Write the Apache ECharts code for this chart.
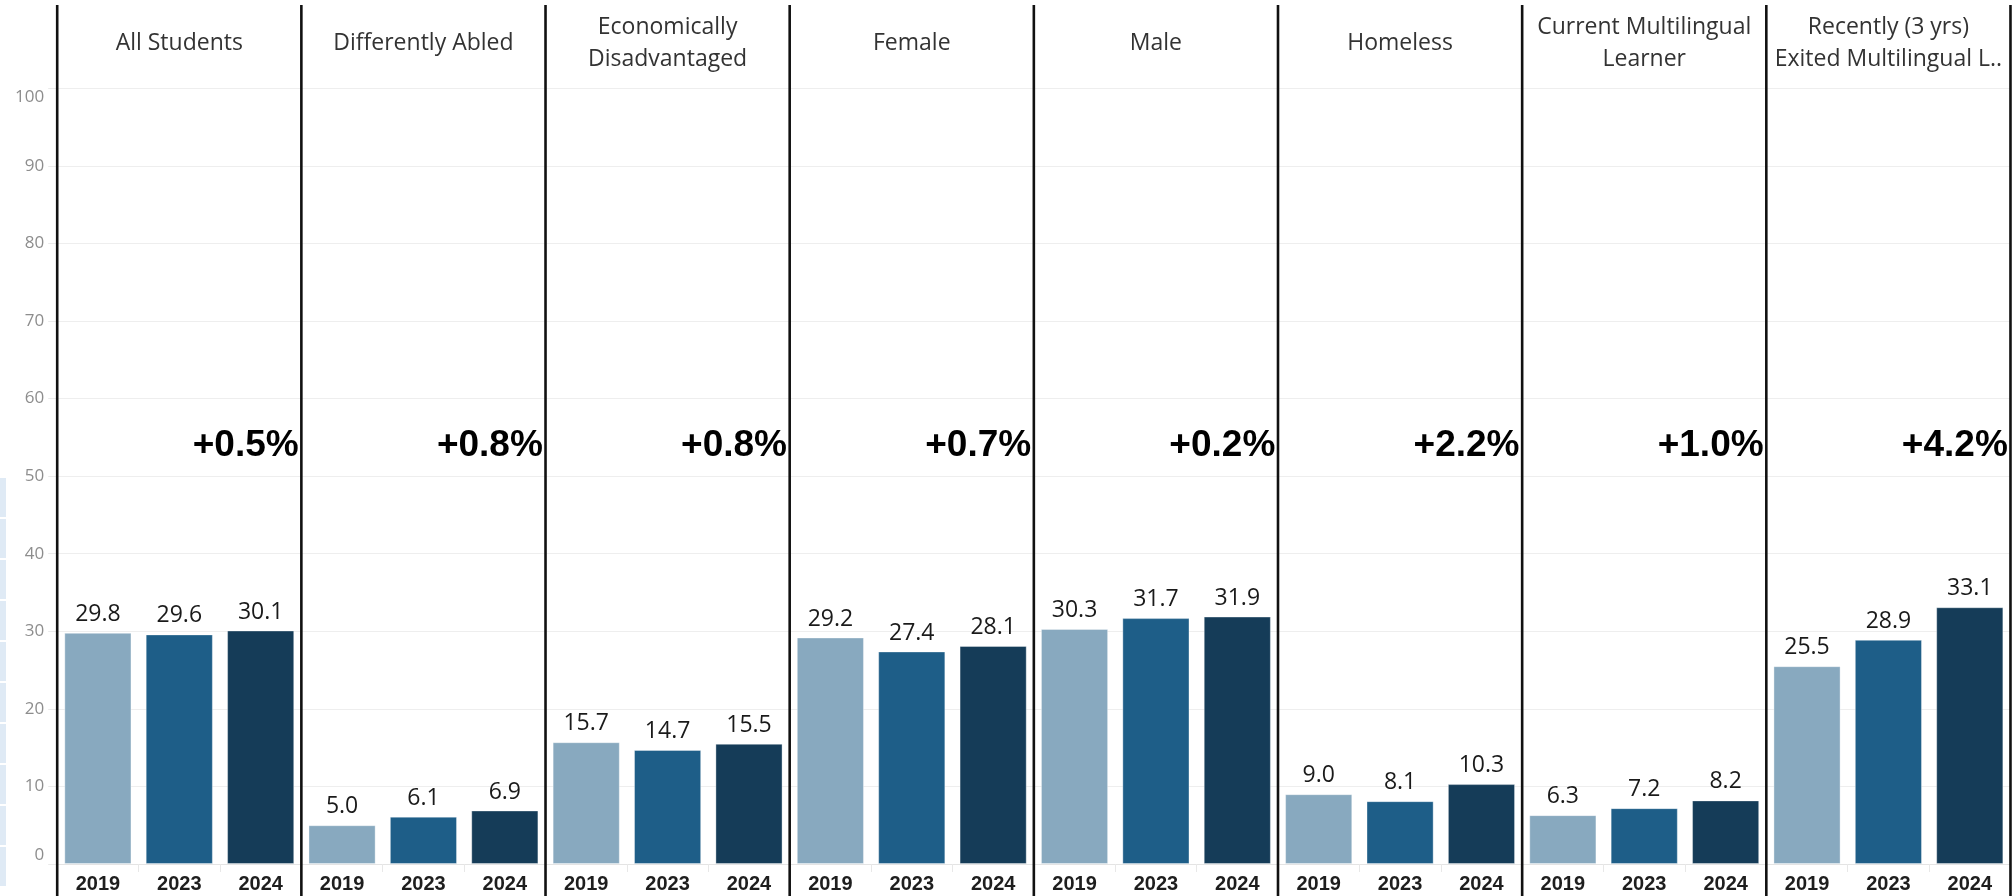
<!DOCTYPE html>
<html>
<head>
<meta charset="utf-8">
<script src="https://cdn.jsdelivr.net/npm/echarts@6/dist/echarts.min.js"></script>
<style>
html,body{margin:0;padding:0;background:#fff;}
#chart{width:2013px;height:896px;}
</style>
</head>
<body>
<div id="chart"></div>
<script>
// ---- data ----
var groups = ['All Students', 'Differently Abled', 'Economically\nDisadvantaged', 'Female', 'Male', 'Homeless', 'Current Multilingual\nLearner', 'Recently (3 yrs)\nExited Multilingual L..'];
var years = ['2019', '2023', '2024'];
var v2019 = [29.8, 5.0, 15.7, 29.2, 30.3, 9.0, 6.3, 25.5];
var v2023 = [29.6, 6.1, 14.7, 27.4, 31.7, 8.1, 7.2, 28.9];
var v2024 = [30.1, 6.9, 15.5, 28.1, 31.9, 10.3, 8.2, 33.1];
var changes = ['+0.5%', '+0.8%', '+0.8%', '+0.7%', '+0.2%', '+2.2%', '+1.0%', '+4.2%'];
var changeLevel = 53.9; // y-axis value where change labels sit
var yMin = 0, yMax = 100, yStep = 10;

// ---- layout / style ----
var yearColors = ['#88a9bf', '#1e5e88', '#153c58'];
var panelLeft = 57.2, panelW = 244.16, gridTop = 88.3, gridBottomY = 864;
var gridLineColor = '#eeeeee';

var chart = echarts.init(document.getElementById('chart'), null, {renderer: 'canvas'});

var grids = [], xAxes = [], yAxes = [], series = [], graphics = [];
for (var i = 0; i < groups.length; i++) {
  grids.push({left: panelLeft + i * panelW, width: panelW, top: gridTop, height: gridBottomY - gridTop});
  xAxes.push({
    type: 'category', gridIndex: i, data: years,
    axisLine: {show: true, lineStyle: {color: '#e4e4e4', width: 1}},
    axisTick: {show: true, length: 8, lineStyle: {color: '#e8e8e8'}},
    axisLabel: {color: '#1e1e1e', fontSize: 20, fontWeight: 'bold', fontFamily: 'Liberation Sans, Arial, sans-serif', margin: 10}
  });
  yAxes.push({
    type: 'value', gridIndex: i, min: yMin, max: yMax, interval: yStep,
    axisLine: {show: false},
    axisTick: {show: i === 0, length: 9, lineStyle: {color: '#eaeaea'}},
    axisLabel: {show: i === 0, color: '#8d8d8d', fontSize: 17, fontFamily: 'Open Sans, sans-serif', margin: 13,
      verticalAlignMaxLabel: 'top', verticalAlignMinLabel: 'bottom'},
    splitLine: {show: true, lineStyle: {color: gridLineColor, width: 1}}
  });
  series.push({
    type: 'bar', xAxisIndex: i, yAxisIndex: i,
    data: [v2019[i], v2023[i], v2024[i]],
    barCategoryGap: '17.5%',
    itemStyle: {color: function (p) { return yearColors[p.dataIndex]; }, borderColor: 'rgba(255,255,255,0.35)', borderWidth: 1},
    label: {show: true, position: 'top', distance: 7, color: '#1a1a1a', fontSize: 23, fontFamily: 'Open Sans, sans-serif',
      formatter: function (p) { return p.value.toFixed(1); }},
    markPoint: {
      symbol: 'circle', symbolSize: 0, silent: true,
      data: [{coord: ['2024', changeLevel], value: changes[i]}],
      label: {show: true, position: 'inside', align: 'right', verticalAlign: 'middle', offset: [38, 0],
        formatter: changes[i], color: '#000', fontSize: 37, fontWeight: 'bold', fontFamily: 'Liberation Sans, Arial, sans-serif'}
    },
    animation: false
  });
  // header text
  graphics.push({
    type: 'text', x: panelLeft + (i + 0.5) * panelW, y: 43, z: 10,
    style: {text: groups[i], align: 'center', verticalAlign: 'middle', fill: '#333', fontSize: 23, lineHeight: 32,
      fontFamily: 'Open Sans, sans-serif'}
  });
}
// vertical panel dividers
for (var d = 0; d <= groups.length; d++) {
  var x = panelLeft + d * panelW;
  graphics.push({type: 'line', z: 20, shape: {x1: x, y1: 5, x2: x, y2: 896}, style: {stroke: '#111', lineWidth: 2.6}});
}
// faint cropped UI strip at left edge
for (var k = 0; k < 10; k++) {
  graphics.push({type: 'rect', z: 1, shape: {x: 0, y: 478 + k * 41, width: 6, height: 39}, style: {fill: '#dfeaf5'}});
}

chart.setOption({
  animation: false,
  backgroundColor: '#ffffff',
  grid: grids, xAxis: xAxes, yAxis: yAxes, series: series, graphic: graphics
});
</script>
</body>
</html>
